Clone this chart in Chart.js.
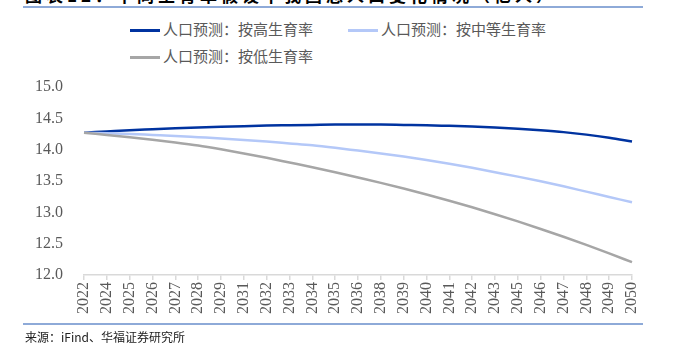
<!DOCTYPE html>
<html>
<head>
<meta charset="utf-8">
<script src="https://cdn.jsdelivr.net/npm/chart.js@4.4.1/dist/chart.umd.min.js"></script>
<style>
  body { margin: 0; background: #fff; }
  #wrap { position: relative; width: 675px; height: 344px; overflow: hidden; font-family: "Noto Sans CJK SC", sans-serif; }
  #title { position: absolute; left: 25px; top: -18px; font-size: 17px; font-weight: bold; color: #000; white-space: nowrap; letter-spacing: 4px; }
  .rule { position: absolute; left: 23px; width: 620px; height: 2px; background: #8eaad8; }
  #legend { position: absolute; left: 130px; top: 19px; width: 460px; }
  .item { position: absolute; font-size: 15px; color: #595959; white-space: nowrap; line-height: 20px; }
  .item i { display: inline-block; width: 30px; height: 3px; vertical-align: middle; margin-right: 3px; }
  #source { position: absolute; left: 25px; top: 328px; font-size: 12px; color: #222; }
  canvas { position: absolute; left: 0; top: 0; }
</style>
</head>
<body>
<div id="wrap">
  <div id="title">图表12：不同生育率假设下我国总人口变化情况（亿人）</div>
  <div class="rule" style="top:6px"></div>
  <div id="legend"></div>
  <canvas id="chart" width="675" height="344"></canvas>
  <div class="rule" style="top:323px"></div>
  <div id="source">来源：iFind、华福证券研究所</div>
</div>
<script>
// 年份（横轴标签）
var years = ['2022', '2024', '2025', '2026', '2027', '2028', '2029', '2031', '2032', '2033', '2034', '2035', '2036',
             '2038', '2039', '2040', '2041', '2042', '2043', '2045', '2046', '2047', '2048', '2049', '2050'];

// 总人口（亿人）
var highRate = [14.27, 14.29, 14.31, 14.325, 14.34, 14.355, 14.365, 14.375, 14.385, 14.39, 14.395, 14.40, 14.40,
                14.40, 14.395, 14.39, 14.38, 14.37, 14.355, 14.335, 14.31, 14.28, 14.24, 14.19, 14.13];
var midRate = [14.27, 14.26, 14.25, 14.235, 14.22, 14.20, 14.18, 14.155, 14.13, 14.10, 14.07, 14.03, 13.985,
               13.94, 13.89, 13.835, 13.775, 13.71, 13.64, 13.57, 13.495, 13.415, 13.33, 13.245, 13.16];
var lowRate = [14.27, 14.235, 14.20, 14.16, 14.115, 14.065, 14.005, 13.94, 13.87, 13.795, 13.72, 13.64, 13.555,
               13.47, 13.38, 13.285, 13.185, 13.08, 12.97, 12.855, 12.735, 12.61, 12.48, 12.345, 12.205];

var seriesNames = ['人口预测：按高生育率', '人口预测：按中等生育率', '人口预测：按低生育率'];
var seriesColors = ['#0033a0', '#b4c8f8', '#a6a6a6'];

// 图例手动排成两行
var legendPos = [[0, 0], [218, 0], [0, 27]];
var legend = document.getElementById('legend');
seriesNames.forEach(function (name, i) {
    var el = document.createElement('div');
    el.className = 'item';
    el.style.left = legendPos[i][0] + 'px';
    el.style.top = legendPos[i][1] + 'px';
    el.innerHTML = '<i style="background:' + seriesColors[i] + '"></i>' + name;
    legend.appendChild(el);
});

var sets = [highRate, midRate, lowRate].map(function (d, i) {
    return {
        label: seriesNames[i],
        data: d,
        borderColor: seriesColors[i],
        borderWidth: 2.5,
        pointRadius: 0,
        fill: false,
        cubicInterpolationMode: 'monotone'
    };
});
// 高生育率画在最上层
sets.reverse();

var ctx = document.getElementById('chart').getContext('2d');
var chart = new Chart(ctx, {
    type: 'line',
    data: { labels: years, datasets: sets },
    options: {
        responsive: false,
        animation: false,
        layout: { padding: { left: 0, right: 43, top: 87, bottom: 0 } },
        plugins: { legend: { display: false }, tooltip: { enabled: false } },
        scales: {
            x: {
                offset: false,
                grid: { drawOnChartArea: false, color: '#d9d9d9', tickLength: 5, lineWidth: 1.5 },
                border: { color: '#d9d9d9', width: 1.5 },
                ticks: {
                    autoSkip: false, maxRotation: 90, minRotation: 90, padding: 2,
                    color: '#595959', font: { family: 'Liberation Serif', size: 16 }
                },
                afterFit: function (scale) { scale.height = 69; }
            },
            y: {
                min: 12, max: 15,
                grid: { display: false },
                border: { display: false },
                ticks: {
                    stepSize: 0.5, padding: 13, color: '#595959',
                    font: { family: 'Liberation Serif', size: 16 },
                    callback: function (v) { return v.toFixed(1); }
                },
                afterFit: function (scale) { scale.width = 84; }
            }
        }
    }
});
</script>
</body>
</html>
